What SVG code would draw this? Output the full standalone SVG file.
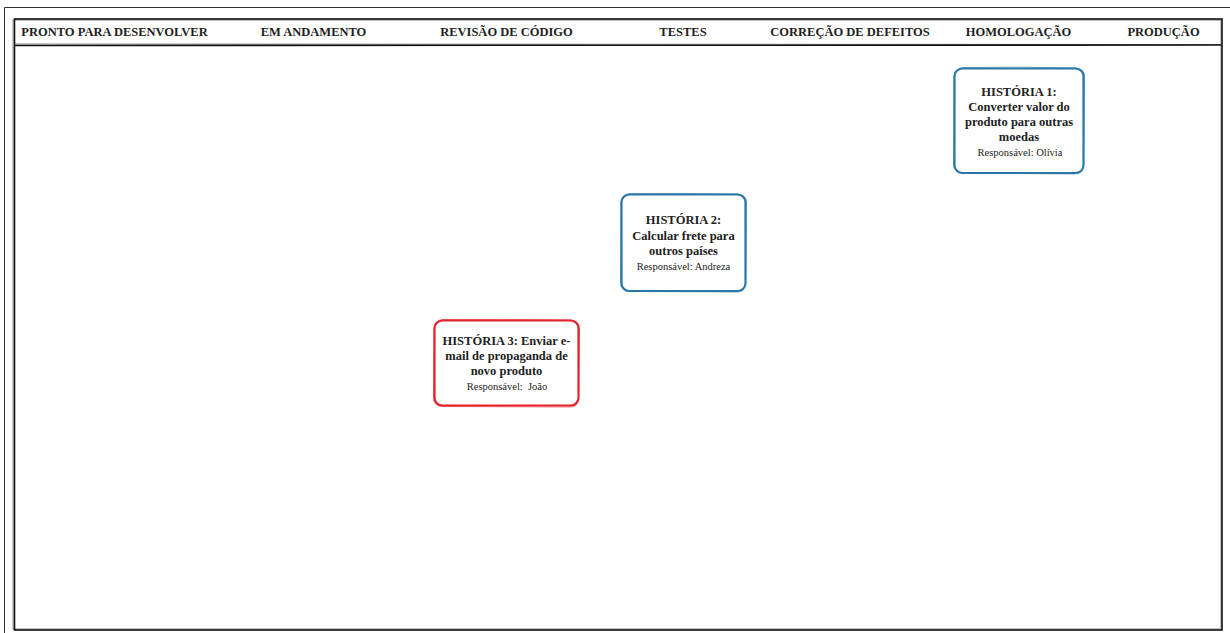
<svg xmlns="http://www.w3.org/2000/svg" width="1230" height="633" viewBox="0 0 1230 633">
  <style>
    .col { font-family: "Liberation Serif", "Times New Roman", serif; font-size: 12.5px; font-weight: bold; fill: #1e1e1e; text-anchor: middle; }
    .title { font-family: "Liberation Serif", "Times New Roman", serif; font-size: 12.5px; font-weight: bold; fill: #222; text-anchor: middle; }
    .owner { font-family: "Liberation Serif", "Times New Roman", serif; font-size: 10.5px; fill: #222; text-anchor: middle; }
    .frame { fill: none; stroke: #111; stroke-width: 1.6; }
    .frame-ghost { fill: none; stroke: #8a8a8a; stroke-width: 1; }
    .card-blue { fill: #fff; stroke: #2a78a8; stroke-width: 2.2; }
    .card-red { fill: #fff; stroke: #e5232a; stroke-width: 2.2; }
    .ghost-blue { fill: none; stroke: #2a78a8; stroke-width: 1; opacity: 0.6; }
    .ghost-red { fill: none; stroke: #e5232a; stroke-width: 1; opacity: 0.6; }
  </style>
  <rect width="1230" height="633" fill="#fff"/>

  <!-- outer sheet border -->
  <path d="M4.5 640 L4.5 7.5 L1240 7.5" fill="none" stroke="#333" stroke-width="1"/>

  <!-- board frame and header band -->
  <g id="board">
    <rect class="frame-ghost" x="13" y="20" width="1208" height="609"/>
    <rect class="frame" x="14.5" y="19" width="1207.5" height="611"/>
    <path class="frame-ghost" d="M15 44 L1221 44.5"/>
    <path class="frame" d="M15 45.5 L1221 45"/>
  </g>

  <!-- column headings -->
  <g id="columns">
    <text class="col" x="114.5" y="36">PRONTO PARA DESENVOLVER</text>
    <text class="col" x="313.5" y="36">EM ANDAMENTO</text>
    <text class="col" x="506.5" y="36">REVISÃO DE CÓDIGO</text>
    <text class="col" x="683" y="36">TESTES</text>
    <text class="col" x="850" y="36">CORREÇÃO DE DEFEITOS</text>
    <text class="col" x="1018.5" y="36">HOMOLOGAÇÃO</text>
    <text class="col" x="1163.5" y="36">PRODUÇÃO</text>
  </g>

  <!-- story cards -->
  <g id="story1">
    <rect class="card-blue" x="954.5" y="68.5" width="129" height="104.5" rx="8"/>
    <path class="ghost-blue" d="M963 67.5 Q1020 66.5 1076 68 Q1085 69 1084.5 77 L1083.5 166 Q1083 173.5 1075 174 L962 173 Q954 172 953.5 165 L954 76 Q955 68.5 963 67.5 Z"/>
    <text class="title" x="1019" y="96">HISTÓRIA 1:</text>
    <text class="title" x="1019" y="111">Converter valor do</text>
    <text class="title" x="1019" y="126">produto para outras</text>
    <text class="title" x="1019" y="141">moedas</text>
    <text class="owner" x="1020" y="156">Responsável: Olívia</text>
  </g>

  <g id="story2">
    <rect class="card-blue" x="621.5" y="194.5" width="124" height="96.5" rx="8"/>
    <path class="ghost-blue" d="M630 193.5 Q684 193 738 194 Q746.5 195 746.5 203 L745.5 284 Q745 292 737 292 L629 291.5 Q621 291 620.5 283 L621 202 Q622 194 630 193.5 Z"/>
    <text class="title" x="683.5" y="224">HISTÓRIA 2:</text>
    <text class="title" x="683.5" y="240">Calcular frete para</text>
    <text class="title" x="683.5" y="255">outros países</text>
    <text class="owner" x="683.5" y="270">Responsável: Andreza</text>
  </g>

  <g id="story3">
    <rect class="card-red" x="434.5" y="320.5" width="144" height="85" rx="8"/>
    <path class="ghost-red" d="M443 319.5 Q507 319 571 320 Q579.5 321 579.5 329 L578.5 399 Q578 407 570 407 L442 406.5 Q434 406 433.5 398 L434 328 Q435 320 443 319.5 Z"/>
    <text class="title" x="506.5" y="345">HISTÓRIA 3: Enviar e-</text>
    <text class="title" x="506.5" y="360">mail de propaganda de</text>
    <text class="title" x="506.5" y="375">novo produto</text>
    <text class="owner" x="507" y="390" xml:space="preserve">Responsável:  João</text>
  </g>

  <!-- no links between cards -->
  <g id="connectors"/>
</svg>
